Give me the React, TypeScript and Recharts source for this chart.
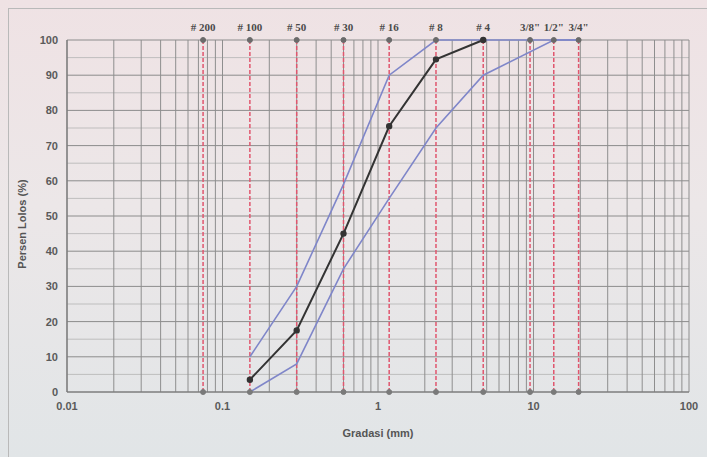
import React from "react";
import {
  LineChart,
  Line,
  XAxis,
  YAxis,
  ReferenceLine,
  ReferenceDot,
} from "recharts";

// sieve sizes (mm) and their names along the top
const sieveSizes = [0.075, 0.15, 0.3, 0.6, 1.18, 2.36, 4.75, 9.5, 13.5, 19.5];
const sieveLabels = ["# 200", "# 100", "# 50", "# 30", "# 16", "# 8", "# 4", "3/8\"", "1/2\"", "3/4\""];

// percent passing of the sample
const sampleSizes = [0.15, 0.3, 0.6, 1.18, 2.36, 4.75];
const samplePassing = [3.5, 17.5, 45, 75.5, 94.5, 100];

// spec envelope, upper limit
const upperSizes = [0.15, 0.3, 0.6, 1.18, 2.36, 4.75, 9.5, 13.5, 19.5];
const upperPassing = [10, 30, 59, 90, 100, 100, 100, 100, 100];

// spec envelope, lower limit
const lowerSizes = [0.15, 0.3, 0.6, 1.18, 2.36, 4.75, 13.5, 19.5];
const lowerPassing = [0, 8, 35, 55, 75, 90, 100, 100];

const xTicks = [0.01, 0.1, 1, 10, 100];
const yTicks = [0, 10, 20, 30, 40, 50, 60, 70, 80, 90, 100];
const yMinor = [5, 15, 25, 35, 45, 55, 65, 75, 85, 95];
const decades = [0.01, 0.1, 1, 10];
const steps = [1, 2, 3, 4, 5, 6, 7, 8, 9];
const gridX = decades.flatMap((d) => steps.map((m) => +(m * d).toPrecision(3))).concat([100]);

const toRows = (xs: number[], ys: number[]) => xs.map((x, i) => ({ size: x, pass: ys[i] }));

const sample = toRows(sampleSizes, samplePassing);
const upper = toRows(upperSizes, upperPassing);
const lower = toRows(lowerSizes, lowerPassing);

const tickStyle = { fill: "#5a5a5a", fontSize: 11, fontWeight: 700, fontFamily: "Liberation Sans, Arial, sans-serif" };

export default function App() {
  return (
    <div
      style={{
        position: "absolute",
        left: 0,
        top: 0,
        width: 707,
        height: 457,
        overflow: "hidden",
        background: "linear-gradient(180deg, #efe2e4 0%, #ece7e8 45%, #e1e5e7 100%)",
      }}
    >
      <div
        style={{
          position: "absolute",
          left: 8,
          top: 8,
          width: 760,
          height: 520,
          border: "1.5px solid #b9b9b9",
        }}
      />
      <div style={{ position: "absolute", left: 0, top: 0 }}>
        <LineChart width={707} height={457} margin={{ top: 40, right: 18, bottom: 0, left: 0 }}>
          <XAxis
            dataKey="size"
            type="number"
            scale="log"
            domain={[0.01, 100]}
            ticks={xTicks}
            allowDataOverflow
            height={65}
            tickSize={0}
            tickMargin={10}
            tick={tickStyle}
            tickFormatter={(v) => String(v)}
            axisLine={{ stroke: "#777", strokeWidth: 1.2 }}
            label={{
              value: "Gradasi (mm)",
              position: "insideBottom",
              offset: 20,
              fill: "#555",
              fontSize: 11,
              fontWeight: 700,
              fontFamily: "Liberation Sans, Arial, sans-serif",
            }}
          />
          <YAxis
            type="number"
            domain={[0, 100]}
            ticks={yTicks}
            width={67}
            tickSize={0}
            tickMargin={9}
            tick={tickStyle}
            axisLine={{ stroke: "#777", strokeWidth: 1.2 }}
            label={{
              value: "Persen Lolos (%)",
              angle: -90,
              position: "insideLeft",
              offset: 22,
              dy: 8,
              fill: "#555",
              fontSize: 11,
              fontWeight: 700,
              fontFamily: "Liberation Sans, Arial, sans-serif",
              style: { textAnchor: "middle" },
            }}
          />

          {yMinor.map((v) => (
            <ReferenceLine key={"ym" + v} y={v} stroke="#b4b4b4" strokeWidth={0.8} />
          ))}
          {yTicks.map((v) => (
            <ReferenceLine key={"y" + v} y={v} stroke="#8c8c8c" strokeWidth={1} />
          ))}
          {gridX.map((v) => (
            <ReferenceLine key={"x" + v} x={v} stroke="#8e8e8e" strokeWidth={1} />
          ))}

          {sieveSizes.map((s, i) => (
            <ReferenceLine
              key={"s" + s}
              x={s}
              stroke="#e0566e"
              strokeWidth={1.5}
              strokeDasharray="4 2"
              label={{
                value: sieveLabels[i],
                position: "top",
                offset: 9,
                fill: "#4a4a4a",
                fontSize: 11,
                fontWeight: 700,
                fontFamily: "Liberation Serif, Times New Roman, serif",
              }}
            />
          ))}
          {sieveSizes.map((s) => (
            <ReferenceDot key={"dt" + s} x={s} y={100} r={2.5} fill="#6a6a6a" stroke="#6a6a6a" ifOverflow="visible" />
          ))}
          {sieveSizes.map((s) => (
            <ReferenceDot key={"db" + s} x={s} y={0} r={2.5} fill="#7a7a7a" stroke="#7a7a7a" ifOverflow="visible" />
          ))}

          <Line
            data={upper}
            dataKey="pass"
            type="linear"
            stroke="#7f86c9"
            strokeWidth={1.6}
            dot={false}
            isAnimationActive={false}
          />
          <Line
            data={lower}
            dataKey="pass"
            type="linear"
            stroke="#7f86c9"
            strokeWidth={1.6}
            dot={false}
            isAnimationActive={false}
          />
          <Line
            data={sample}
            dataKey="pass"
            type="linear"
            stroke="#333"
            strokeWidth={2}
            dot={{ r: 2.2, fill: "#333", stroke: "#333" }}
            isAnimationActive={false}
          />
        </LineChart>
      </div>
    </div>
  );
}
